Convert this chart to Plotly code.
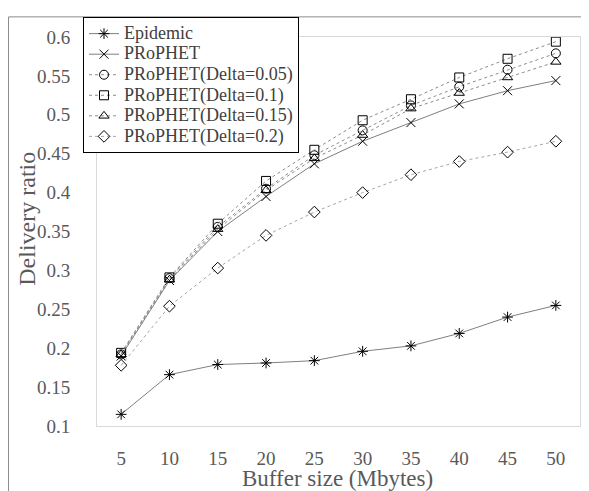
import plotly.graph_objects as go

buffer_sizes = [5, 10, 15, 20, 25, 30, 35, 40, 45, 50]
epidemic = [0.115, 0.166, 0.179, 0.181, 0.184, 0.196, 0.203, 0.219, 0.240, 0.255]
prophet = [0.190, 0.287, 0.350, 0.395, 0.437, 0.466, 0.490, 0.514, 0.531, 0.544]
delta_005 = [0.192, 0.290, 0.356, 0.405, 0.448, 0.480, 0.512, 0.536, 0.558, 0.579]
delta_01 = [0.194, 0.291, 0.360, 0.415, 0.455, 0.493, 0.520, 0.548, 0.572, 0.594]
delta_015 = [0.192, 0.288, 0.353, 0.403, 0.444, 0.474, 0.508, 0.528, 0.548, 0.568]
delta_02 = [0.178, 0.254, 0.303, 0.345, 0.375, 0.400, 0.423, 0.440, 0.452, 0.466]
y_ticks = [0.1, 0.15, 0.2, 0.25, 0.3, 0.35, 0.4, 0.45, 0.5, 0.55, 0.6]
y_tick_labels = ["0.1", "0.15", "0.2", "0.25", "0.3", "0.35", "0.4", "0.45", "0.5", "0.55", "0.6"]
series_names = ["Epidemic", "PRoPHET", "PRoPHET(Delta=0.05)", "PRoPHET(Delta=0.1)",
                "PRoPHET(Delta=0.15)", "PRoPHET(Delta=0.2)"]
series_values = [epidemic, prophet, delta_005, delta_01, delta_015, delta_02]

styles = [
    ("asterisk-open", "solid", "#7f7f7f"),
    ("x-thin-open", "solid", "#7f7f7f"),
    ("circle-open", "dot", "#8c8c8c"),
    ("square-open", "dot", "#8c8c8c"),
    ("triangle-up-open", "dot", "#8c8c8c"),
    ("diamond-open", "dot", "#a6a6a6"),
]

FONT = "Liberation Serif"

fig = go.Figure()
for name, vals, (sym, dash, col) in zip(series_names, series_values, styles):
    fig.add_trace(go.Scatter(
        x=buffer_sizes, y=vals,
        name="<span style='font-size:18px'>" + name + "</span>",
        mode="lines+markers",
        line=dict(color=col, width=1, dash=dash),
        marker=dict(symbol=sym, size=9, color="black", line=dict(color="black", width=1)),
    ))

# the page body has an 8px margin, so the figure is drawn 8px in from the window's edge
OFF = 8
W, H = 589 - OFF, 491 - OFF
L, R, T, B = 97 - OFF, 589 - 580, 30 - OFF, 491 - 426
pw, ph = W - L - R, H - T - B


def px(x):  # window pixel -> paper fraction
    return (x - OFF - L) / pw


def py(y):
    return 1 - (y - OFF - T) / ph


fig.update_layout(
    width=W, height=H,
    margin=dict(l=L, r=R, t=T, b=B),
    paper_bgcolor="white", plot_bgcolor="white",
    font=dict(family=FONT, color="#595959", size=19),
    showlegend=True,
    legend=dict(
        x=px(83), y=py(10), xanchor="left", yanchor="top",
        bgcolor="white", bordercolor="black", borderwidth=1,
        font=dict(family=FONT, size=13.5, color="#404040"),
        itemwidth=30, tracegroupgap=0,
    ),
    xaxis=dict(
        range=[2.5, 52.5], tickmode="array", tickvals=buffer_sizes,
        ticktext=[str(v) for v in buffer_sizes],
        showgrid=False, zeroline=False, showline=True, mirror=True,
        linecolor="#d9d9d9", linewidth=1, ticks="",
        ticklabelstandoff=15,
        tickfont=dict(family=FONT, size=19, color="#595959"),
    ),
    yaxis=dict(
        range=[0.1, 0.6], tickmode="array", tickvals=y_ticks, ticktext=y_tick_labels,
        showgrid=False, zeroline=False, showline=True, mirror=True,
        linecolor="#d9d9d9", linewidth=1, ticks="",
        ticklabelstandoff=22,
        tickfont=dict(family=FONT, size=19, color="#595959"),
    ),
    annotations=[
        dict(text="Buffer size (Mbytes)", xref="paper", yref="paper", x=px(337), y=py(479),
             xanchor="center", yanchor="middle", showarrow=False,
             font=dict(family=FONT, size=23, color="#595959")),
        dict(text="Delivery ratio", xref="paper", yref="paper", x=px(27), y=py(215),
             xanchor="center", yanchor="middle", showarrow=False, textangle=-90,
             font=dict(family=FONT, size=24, color="#595959")),
    ],
    shapes=[
        dict(type="line", xref="paper", yref="paper", x0=px(8.5), x1=px(600), y0=py(9.5), y1=py(9.5),
             line=dict(color="#8c8c8c", width=1)),
        dict(type="line", xref="paper", yref="paper", x0=px(8.5), x1=px(8.5), y0=py(9.5), y1=py(500),
             line=dict(color="#8c8c8c", width=1)),
    ],
)

fig.write_html("out.html")
